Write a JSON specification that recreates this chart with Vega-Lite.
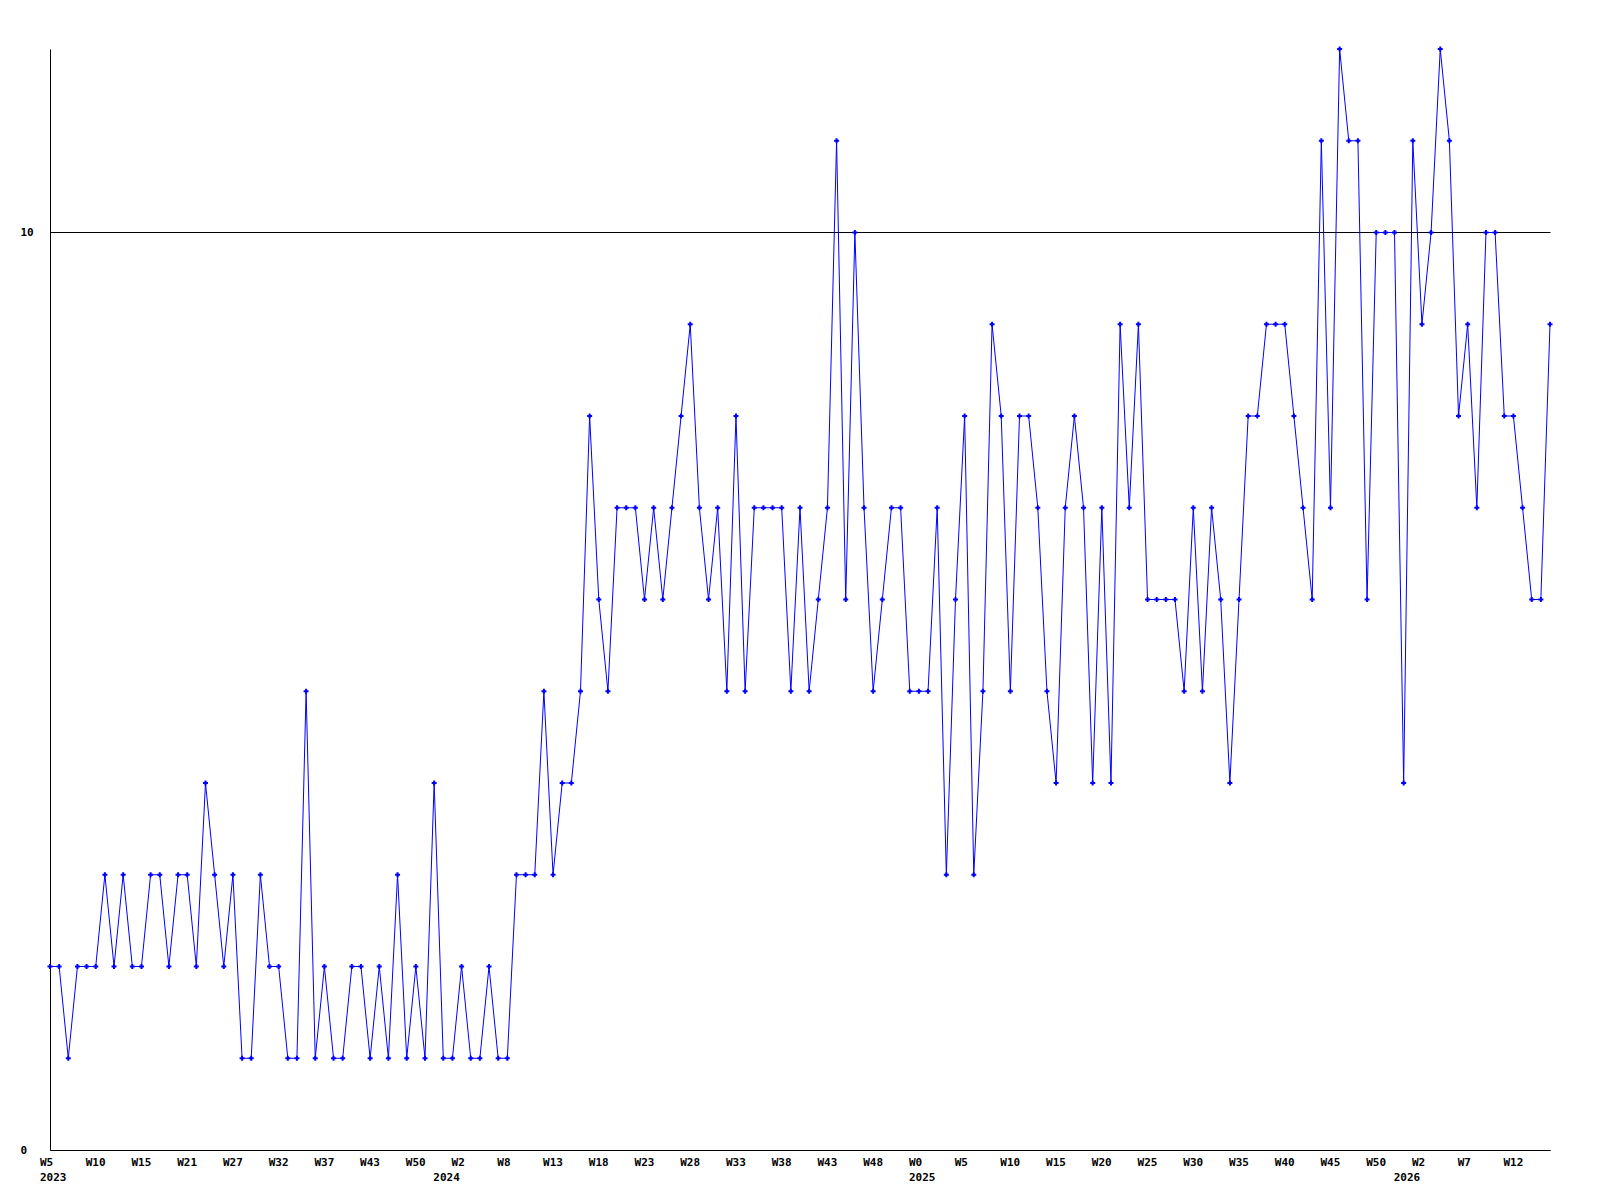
{
  "$schema": "https://vega.github.io/schema/vega-lite/v6.json",
  "width": 1500,
  "height": 1101,
  "autosize": {"type": "none"},
  "padding": {"left": 50, "top": 49, "right": 50, "bottom": 50},
  "background": "white",
  "config": {"view": {"stroke": null}},
  "data": {"values": [
    {"i":0,"v":2},{"i":1,"v":2},{"i":2,"v":1},{"i":3,"v":2},{"i":4,"v":2},{"i":5,"v":2},{"i":6,"v":3},{"i":7,"v":2},{"i":8,"v":3},{"i":9,"v":2},
    {"i":10,"v":2},{"i":11,"v":3},{"i":12,"v":3},{"i":13,"v":2},{"i":14,"v":3},{"i":15,"v":3},{"i":16,"v":2},{"i":17,"v":4},{"i":18,"v":3},{"i":19,"v":2},
    {"i":20,"v":3},{"i":21,"v":1},{"i":22,"v":1},{"i":23,"v":3},{"i":24,"v":2},{"i":25,"v":2},{"i":26,"v":1},{"i":27,"v":1},{"i":28,"v":5},{"i":29,"v":1},
    {"i":30,"v":2},{"i":31,"v":1},{"i":32,"v":1},{"i":33,"v":2},{"i":34,"v":2},{"i":35,"v":1},{"i":36,"v":2},{"i":37,"v":1},{"i":38,"v":3},{"i":39,"v":1},
    {"i":40,"v":2},{"i":41,"v":1},{"i":42,"v":4},{"i":43,"v":1},{"i":44,"v":1},{"i":45,"v":2},{"i":46,"v":1},{"i":47,"v":1},{"i":48,"v":2},{"i":49,"v":1},
    {"i":50,"v":1},{"i":51,"v":3},{"i":52,"v":3},{"i":53,"v":3},{"i":54,"v":5},{"i":55,"v":3},{"i":56,"v":4},{"i":57,"v":4},{"i":58,"v":5},{"i":59,"v":8},
    {"i":60,"v":6},{"i":61,"v":5},{"i":62,"v":7},{"i":63,"v":7},{"i":64,"v":7},{"i":65,"v":6},{"i":66,"v":7},{"i":67,"v":6},{"i":68,"v":7},{"i":69,"v":8},
    {"i":70,"v":9},{"i":71,"v":7},{"i":72,"v":6},{"i":73,"v":7},{"i":74,"v":5},{"i":75,"v":8},{"i":76,"v":5},{"i":77,"v":7},{"i":78,"v":7},{"i":79,"v":7},
    {"i":80,"v":7},{"i":81,"v":5},{"i":82,"v":7},{"i":83,"v":5},{"i":84,"v":6},{"i":85,"v":7},{"i":86,"v":11},{"i":87,"v":6},{"i":88,"v":10},{"i":89,"v":7},
    {"i":90,"v":5},{"i":91,"v":6},{"i":92,"v":7},{"i":93,"v":7},{"i":94,"v":5},{"i":95,"v":5},{"i":96,"v":5},{"i":97,"v":7},{"i":98,"v":3},{"i":99,"v":6},
    {"i":100,"v":8},{"i":101,"v":3},{"i":102,"v":5},{"i":103,"v":9},{"i":104,"v":8},{"i":105,"v":5},{"i":106,"v":8},{"i":107,"v":8},{"i":108,"v":7},{"i":109,"v":5},
    {"i":110,"v":4},{"i":111,"v":7},{"i":112,"v":8},{"i":113,"v":7},{"i":114,"v":4},{"i":115,"v":7},{"i":116,"v":4},{"i":117,"v":9},{"i":118,"v":7},{"i":119,"v":9},
    {"i":120,"v":6},{"i":121,"v":6},{"i":122,"v":6},{"i":123,"v":6},{"i":124,"v":5},{"i":125,"v":7},{"i":126,"v":5},{"i":127,"v":7},{"i":128,"v":6},{"i":129,"v":4},
    {"i":130,"v":6},{"i":131,"v":8},{"i":132,"v":8},{"i":133,"v":9},{"i":134,"v":9},{"i":135,"v":9},{"i":136,"v":8},{"i":137,"v":7},{"i":138,"v":6},{"i":139,"v":11},
    {"i":140,"v":7},{"i":141,"v":12},{"i":142,"v":11},{"i":143,"v":11},{"i":144,"v":6},{"i":145,"v":10},{"i":146,"v":10},{"i":147,"v":10},{"i":148,"v":4},{"i":149,"v":11},
    {"i":150,"v":9},{"i":151,"v":10},{"i":152,"v":12},{"i":153,"v":11},{"i":154,"v":8},{"i":155,"v":9},{"i":156,"v":7},{"i":157,"v":10},{"i":158,"v":10},{"i":159,"v":8},
    {"i":160,"v":8},{"i":161,"v":7},{"i":162,"v":6},{"i":163,"v":6},{"i":164,"v":9}
  ]},
  "layer": [
    {
      "mark": {"type": "line", "color": "#0000ff", "strokeWidth": 1, "interpolate": "linear"},
      "encoding": {
        "x": {"field": "i", "type": "quantitative",
          "scale": {"domain": [0, 164], "nice": false, "zero": false},
          "axis": {
            "orient": "bottom",
            "title": null,
            "values": [0,5,10,15,20,25,30,35,40,45,50,55,60,65,70,75,80,85,90,95,100,105,110,115,120,125,130,135,140,145,150,155,160],
            "labelExpr": "['W5','W10','W15','W21','W27','W32','W37','W43','W50','W2','W8','W13','W18','W23','W28','W33','W38','W43','W48','W0','W5','W10','W15','W20','W25','W30','W35','W40','W45','W50','W2','W7','W12'][round(datum.value/5)]",
            "ticks": false, "grid": false,
            "domainColor": "black", "domainWidth": 1,
            "labelAlign": "left", "labelOffset": -10.5, "labelBaseline": "middle", "labelPadding": 12,
            "labelFont": "DejaVu Sans Mono", "labelFontWeight": "bold", "labelFontSize": 11, "labelColor": "black",
            "labelOverlap": false, "labelFlush": false, "labelBound": false
          }
        },
        "y": {"field": "v", "type": "quantitative",
          "scale": {"domain": [0, 12], "nice": false, "zero": true},
          "axis": {
            "title": null,
            "values": [0, 10],
            "format": "d",
            "grid": true, "gridColor": "black", "gridWidth": 1, "gridOpacity": 1,
            "ticks": false,
            "domainColor": "black", "domainWidth": 1,
            "labelAlign": "left", "labelBaseline": "middle", "labelPadding": 30,
            "labelFont": "DejaVu Sans Mono", "labelFontWeight": "bold", "labelFontSize": 11, "labelColor": "black",
            "labelOverlap": false, "labelFlush": false
          }
        }
      }
    },
    {
      "mark": {"type": "point", "shape": "cross", "filled": true, "color": "#0000ff", "size": 25, "opacity": 1},
      "encoding": {
        "x": {"field": "i", "type": "quantitative", "scale": {"domain": [0, 164], "nice": false, "zero": false}, "axis": null},
        "y": {"field": "v", "type": "quantitative", "scale": {"domain": [0, 12], "nice": false, "zero": true}}
      }
    },
    {
      "data": {"values": [
        {"i": 0, "year": "2023"},
        {"i": 43, "year": "2024"},
        {"i": 95, "year": "2025"},
        {"i": 148, "year": "2026"}
      ]},
      "mark": {"type": "point", "opacity": 0},
      "encoding": {
        "x": {"field": "i", "type": "quantitative",
          "scale": {"domain": [0, 164], "nice": false, "zero": false},
          "axis": {
            "orient": "bottom",
            "title": null,
            "values": [0, 43, 95, 148],
            "labelExpr": "datum.value == 0 ? '2023' : datum.value == 43 ? '2024' : datum.value == 95 ? '2025' : '2026'",
            "ticks": false, "grid": false, "domain": false,
            "labelAlign": "left", "labelOffset": -10.5, "labelBaseline": "middle", "labelPadding": 27,
            "labelFont": "DejaVu Sans Mono", "labelFontWeight": "bold", "labelFontSize": 11, "labelColor": "black",
            "labelOverlap": false, "labelFlush": false, "labelBound": false
          }
        }
      }
    }
  ],
  "resolve": {"axis": {"x": "independent"}}
}
